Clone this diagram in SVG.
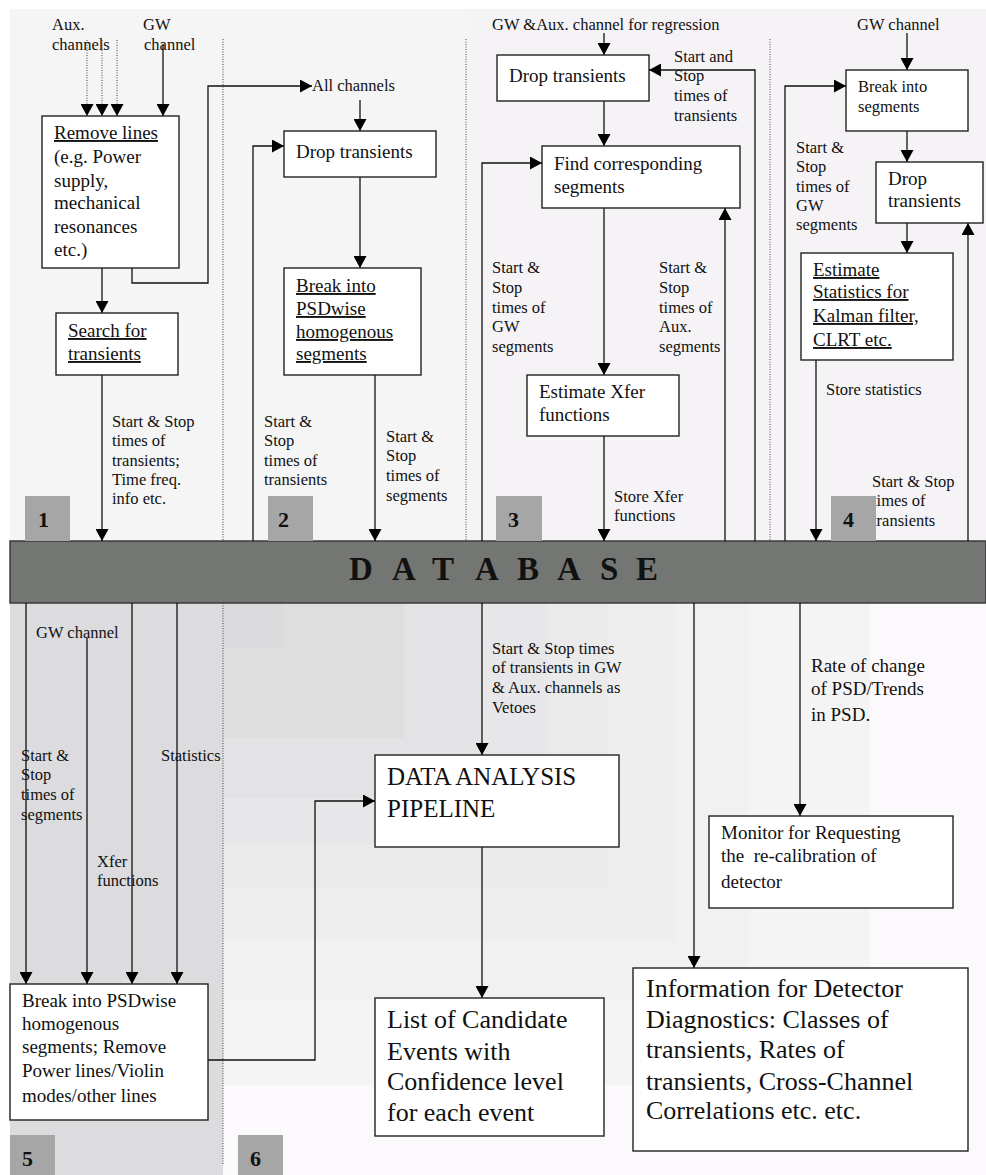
<svg xmlns="http://www.w3.org/2000/svg" width="986" height="1175" viewBox="0 0 986 1175">
<defs>
<style>
.s{font-family:"Liberation Serif","Times New Roman",serif;font-size:16.5px;fill:#111}
.b{font-family:"Liberation Serif","Times New Roman",serif;font-size:19px;fill:#111}
.l{font-family:"Liberation Serif","Times New Roman",serif;font-size:26px;fill:#111}
.u{text-decoration:underline}
.box{fill:#fff;stroke:#222;stroke-width:1.4}
.c{fill:none;stroke:#111;stroke-width:1.3}
.a{marker-end:url(#ah)}
.dot{fill:none;stroke:#444;stroke-width:1;stroke-dasharray:1 1.5}
.num{fill:#a6a6a6}
.nt{font-family:"Liberation Serif","Times New Roman",serif;font-weight:bold;font-size:22px;fill:#111}
</style>
<marker id="ah" viewBox="0 0 12 13" markerUnits="userSpaceOnUse" markerWidth="12" markerHeight="13" refX="12" refY="6.5" orient="auto"><path d="M0,0 L12,6.5 L0,13 z" fill="#000"/></marker>
<clipPath id="clip3"><rect x="600" y="480" width="140" height="41"/></clipPath>
<clipPath id="clip5"><rect x="90" y="840" width="100" height="47"/></clipPath>
</defs>
<rect x="0" y="0" width="986" height="1175" fill="#fff"/>
<g id="background">
<rect x="10" y="9" width="456" height="532" fill="#f5f5f5"/>
<rect x="466" y="9" width="520" height="532" fill="#f6f3f6"/>
<rect x="10" y="603" width="213" height="572" fill="#dcdbde"/>
<rect x="223" y="603" width="763" height="572" fill="#fbf9fb"/>
<rect x="223" y="603" width="647" height="482" fill="#f5f4f5"/>
<rect x="223" y="603" width="526" height="397" fill="#f2f1f2"/>
<rect x="223" y="603" width="452" height="337" fill="#efeeef"/>
<rect x="223" y="603" width="385" height="285" fill="#ebeaeb"/>
<rect x="223" y="603" width="324" height="242" fill="#e7e6e8"/>
<rect x="223" y="603" width="260" height="195" fill="#e3e2e4"/>
<rect x="223" y="603" width="181" height="135" fill="#dfdedf"/>
<rect x="223" y="603" width="61" height="45" fill="#dbdadc"/>
<path class="dot" d="M223,39 V541 M466,39 V541 M770,39 V541 M223,603 V1165"/>
</g>
<g id="database">
<rect x="10" y="541" width="976" height="62" fill="#747673" stroke="#333" stroke-width="1.4"/>
<text x="349 392 432 475 517 557 600 636" y="580" font-family="'Liberation Serif','Times New Roman',serif" font-weight="bold" font-size="33" fill="#111">DATABASE</text>
</g>
<g id="connectors">
<path class="dot a" d="M87,40 V116"/>
<path class="dot a" d="M102,40 V116"/>
<path class="dot a" d="M117,40 V116"/>
<path class="c a" d="M163,44 V116"/>
<path class="c a" d="M102,268 V313"/>
<path class="c a" d="M132,268 V283 H208 V86 H312"/>
<path class="c a" d="M102,375 V541"/>
<path class="c a" d="M360,100 V131"/>
<path class="c a" d="M360,177 V268"/>
<path class="c a" d="M375,375 V541"/>
<path class="c a" d="M253,541 V146 H284"/>
<path class="c a" d="M604,33 V55"/>
<path class="c a" d="M604,101 V146"/>
<path class="c a" d="M755,541 V70 H649"/>
<path class="c a" d="M482,541 V163 H542"/>
<path class="c a" d="M725,541 V208"/>
<path class="c a" d="M604,208 V375"/>
<path class="c a" d="M604,436 V541"/>
<path class="c a" d="M907,33 V70"/>
<path class="c a" d="M907,131 V162"/>
<path class="c a" d="M907,223 V253"/>
<path class="c a" d="M816,360 V541"/>
<path class="c a" d="M785,541 V86 H846"/>
<path class="c a" d="M968,541 V223"/>
<path class="c a" d="M26,603 V984"/>
<path class="c a" d="M87,638 V984"/>
<path class="c a" d="M132,603 V984"/>
<path class="c a" d="M177,603 V984"/>
<path class="c a" d="M208,1060 H315 V801 H375"/>
<path class="c a" d="M482,603 V755"/>
<path class="c a" d="M482,847 V998"/>
<path class="c a" d="M694,603 V968"/>
<path class="c a" d="M800,603 V816"/>
</g>
<g id="remove-lines">
<rect class="box" x="42" y="116" width="137" height="152"/>
<text class="b"><tspan class="u" x="54" y="139">Remove lines</tspan><tspan x="54" y="163">(e.g. Power</tspan><tspan x="54" y="187">supply,</tspan><tspan x="54" y="209">mechanical</tspan><tspan x="54" y="233">resonances</tspan><tspan x="54" y="256">etc.)</tspan></text>
</g>
<g id="search-transients">
<rect class="box" x="56" y="313" width="122" height="62"/>
<text class="b u"><tspan x="68" y="337">Search for</tspan><tspan x="68" y="360">transients</tspan></text>
</g>
<g id="drop-transients-2">
<rect class="box" x="284" y="131" width="152" height="46"/>
<text class="b" x="296" y="158">Drop transients</text>
</g>
<g id="break-psdwise">
<rect class="box" x="284" y="268" width="137" height="107"/>
<text class="b u"><tspan x="296" y="292">Break into</tspan><tspan x="296" y="315">PSDwise</tspan><tspan x="296" y="338">homogenous</tspan><tspan x="296" y="360">segments</tspan></text>
</g>
<g id="drop-transients-3">
<rect class="box" x="497" y="55" width="152" height="46"/>
<text class="b" x="509" y="82">Drop transients</text>
</g>
<g id="find-segments">
<rect class="box" x="542" y="146" width="198" height="62"/>
<text class="b"><tspan x="554" y="170">Find corresponding</tspan><tspan x="554" y="193">segments</tspan></text>
</g>
<g id="estimate-xfer">
<rect class="box" x="527" y="375" width="152" height="61"/>
<text class="b"><tspan x="539" y="398">Estimate Xfer</tspan><tspan x="539" y="421">functions</tspan></text>
</g>
<g id="break-segments">
<rect class="box" x="846" y="70" width="122" height="61"/>
<text class="s"><tspan x="858" y="92">Break into</tspan><tspan x="858" y="112">segments</tspan></text>
</g>
<g id="drop-transients-4">
<rect class="box" x="876" y="162" width="107" height="61"/>
<text class="b" font-size="18.5"><tspan x="888" y="185">Drop</tspan><tspan x="888" y="207">transients</tspan></text>
</g>
<g id="estimate-statistics">
<rect class="box" x="801" y="253" width="152" height="107"/>
<text class="b u"><tspan x="813" y="276">Estimate</tspan><tspan x="813" y="298">Statistics for</tspan><tspan x="813" y="322">Kalman filter,</tspan><tspan x="813" y="346">CLRT etc.</tspan></text>
</g>
<g id="break-psdwise-remove">
<rect class="box" x="10" y="984" width="198" height="136"/>
<text class="b"><tspan x="22" y="1007">Break into PSDwise</tspan><tspan x="22" y="1030">homogenous</tspan><tspan x="22" y="1053">segments; Remove</tspan><tspan x="22" y="1077">Power lines/Violin</tspan><tspan x="22" y="1102">modes/other lines</tspan></text>
</g>
<g id="data-analysis-pipeline">
<rect class="box" x="375" y="755" width="244" height="92"/>
<text class="l" style="font-size:25px"><tspan x="387" y="785">DATA ANALYSIS</tspan><tspan x="387" y="817">PIPELINE</tspan></text>
</g>
<g id="candidate-events">
<rect class="box" x="375" y="998" width="229" height="138"/>
<text class="l"><tspan x="387" y="1028">List of Candidate</tspan><tspan x="387" y="1060">Events with</tspan><tspan x="387" y="1090">Confidence level</tspan><tspan x="387" y="1121">for each event</tspan></text>
</g>
<g id="monitor-recalibration">
<rect class="box" x="709" y="816" width="244" height="92"/>
<text class="b" font-size="18.5" xml:space="preserve"><tspan x="721" y="839">Monitor for Requesting</tspan><tspan x="721" y="862">the  re-calibration of</tspan><tspan x="721" y="888">detector</tspan></text>
</g>
<g id="detector-diagnostics">
<rect class="box" x="633" y="968" width="335" height="183"/>
<text class="l"><tspan x="646" y="997">Information for Detector</tspan><tspan x="646" y="1028">Diagnostics: Classes of</tspan><tspan x="646" y="1058">transients, Rates of</tspan><tspan x="646" y="1090">transients, Cross-Channel</tspan><tspan x="646" y="1119">Correlations etc. etc.</tspan></text>
</g>
<g id="labels">
<text class="s"><tspan x="52" y="30">Aux.</tspan><tspan x="52" y="50">channels</tspan></text>
<text class="s"><tspan x="143" y="30">GW</tspan><tspan x="144" y="50">channel</tspan></text>
<text class="s" x="312" y="91">All channels</text>
<text class="s"><tspan x="112" y="427">Start &amp; Stop</tspan><tspan x="112" y="446">times of</tspan><tspan x="112" y="466">transients;</tspan><tspan x="112" y="485">Time freq.</tspan><tspan x="112" y="504">info etc.</tspan></text>
<text class="s"><tspan x="264" y="427">Start &amp;</tspan><tspan x="264" y="446">Stop</tspan><tspan x="264" y="466">times of</tspan><tspan x="264" y="485">transients</tspan></text>
<text class="s"><tspan x="386" y="442">Start &amp;</tspan><tspan x="386" y="461">Stop</tspan><tspan x="386" y="481">times of</tspan><tspan x="386" y="501">segments</tspan></text>
<text class="s" x="492" y="30">GW &amp;Aux. channel for regression</text>
<text class="s"><tspan x="674" y="62">Start and</tspan><tspan x="674" y="81">Stop</tspan><tspan x="674" y="101">times of</tspan><tspan x="674" y="121">transients</tspan></text>
<text class="s"><tspan x="492" y="273">Start &amp;</tspan><tspan x="492" y="293">Stop</tspan><tspan x="492" y="313">times of</tspan><tspan x="492" y="332">GW</tspan><tspan x="492" y="352">segments</tspan></text>
<text class="s"><tspan x="659" y="273">Start &amp;</tspan><tspan x="659" y="293">Stop</tspan><tspan x="659" y="313">times of</tspan><tspan x="659" y="332">Aux.</tspan><tspan x="659" y="352">segments</tspan></text>
<text class="s" clip-path="url(#clip3)"><tspan x="614" y="502">Store Xfer</tspan><tspan x="614" y="521">functions</tspan></text>
<text class="s" x="857" y="30">GW channel</text>
<text class="s"><tspan x="796" y="153">Start &amp;</tspan><tspan x="796" y="172">Stop</tspan><tspan x="796" y="192">times of</tspan><tspan x="796" y="211">GW</tspan><tspan x="796" y="230">segments</tspan></text>
<text class="s" x="826" y="395">Store statistics</text>
<text class="s"><tspan x="872" y="487">Start &amp; Stop</tspan><tspan x="872" y="506">times of</tspan><tspan x="872" y="526">transients</tspan></text>
<text class="s" x="36" y="638">GW channel</text>
<text class="s"><tspan x="21" y="761">Start &amp;</tspan><tspan x="21" y="780">Stop</tspan><tspan x="21" y="800">times of</tspan><tspan x="21" y="820">segments</tspan></text>
<text class="s" x="161" y="761">Statistics</text>
<text class="s" clip-path="url(#clip5)"><tspan x="97" y="867">Xfer</tspan><tspan x="97" y="886">functions</tspan></text>
<text class="s"><tspan x="492" y="654">Start &amp; Stop times</tspan><tspan x="492" y="673">of transients in GW</tspan><tspan x="492" y="693">&amp; Aux. channels as</tspan><tspan x="492" y="713">Vetoes</tspan></text>
<text class="s" style="font-size:19px"><tspan x="811" y="672">Rate of change</tspan><tspan x="811" y="695">of PSD/Trends</tspan><tspan x="811" y="721">in PSD.</tspan></text>
</g>
<g id="panel-numbers">
<rect class="num" x="25" y="496" width="45" height="45"/><text class="nt" x="38" y="527">1</text>
<rect class="num" x="268" y="496" width="45" height="45"/><text class="nt" x="278" y="527">2</text>
<rect class="num" x="496" y="496" width="46" height="45"/><text class="nt" x="508" y="527">3</text>
<rect class="num" x="831" y="496" width="45" height="45"/><text class="nt" x="843" y="527">4</text>
<rect class="num" x="10" y="1135" width="45" height="40"/><text class="nt" x="22" y="1166">5</text>
<rect class="num" x="238" y="1135" width="45" height="40"/><text class="nt" x="250" y="1166">6</text>
</g>
</svg>
